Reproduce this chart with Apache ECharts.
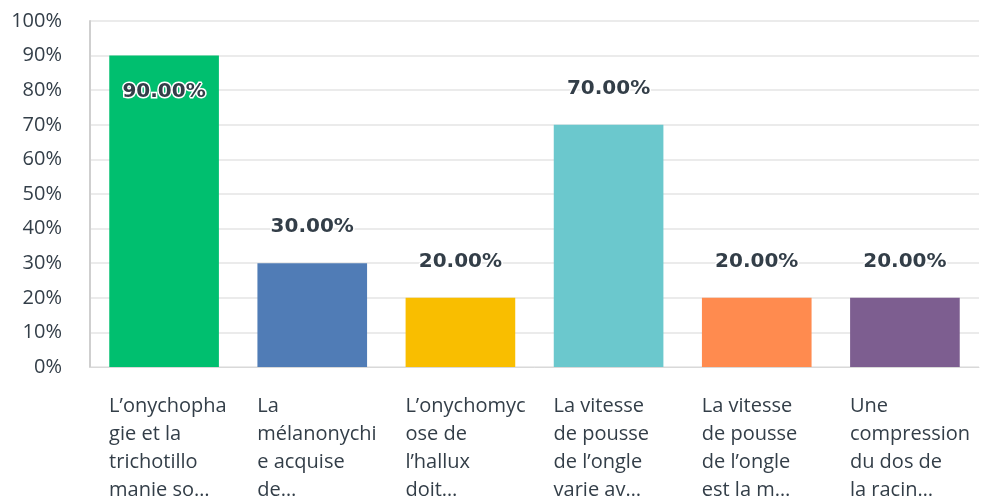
<!DOCTYPE html>
<html>
<head>
<meta charset="utf-8">
<script src="https://cdn.jsdelivr.net/npm/echarts@6/dist/echarts.min.js"></script>
<style>
  html, body { margin: 0; padding: 0; background: #fff; }
  #main { width: 982px; height: 500px; }
</style>
</head>
<body>
<div id="main"></div>
<script>
  // categories as shown (wrapped and cut off like the original)
  const categories = [
    'L’onychopha\ngie et la\ntrichotillo\nmanie so…',
    'La\nmélanonychi\ne acquise\nde…',
    'L’onychomyc\nose de\nl’hallux\ndoit…',
    'La vitesse\nde pousse\nde l’ongle\nvarie av…',
    'La vitesse\nde pousse\nde l’ongle\nest la m…',
    'Une\ncompression\ndu dos de\nla racin…'
  ];
  const values = [90, 30, 20, 70, 20, 20];
  const colors = ['#00bf6f', '#507cb6', '#f9be00', '#6bc8cd', '#ff8b4f', '#7d5e90'];
  const yTicks = [0, 10, 20, 30, 40, 50, 60, 70, 80, 90, 100];

  const font = '"Open Sans", sans-serif';
  const textColor = '#333e48';

  let myechart = echarts.init(document.getElementById('main'));

  let option = {
    animation: false,
    grid: { left: 90, right: 3, top: 21, bottom: 133 },
    xAxis: {
      type: 'category',
      data: categories,
      axisTick: { show: false },
      axisLine: { lineStyle: { color: '#d9d9d9', width: 1 } },
      axisLabel: {
        interval: 0,
        margin: 25,
        align: 'center',
        fontFamily: font,
        fontSize: 20,
        color: textColor,
        formatter: function (v) {
          return v.split('\n').map(l => '{t|' + l + '}').join('\n');
        },
        rich: {
          t: { align: 'left', width: 110, lineHeight: 28, fontSize: 20, fontFamily: font, color: textColor }
        }
      }
    },
    yAxis: {
      type: 'value',
      min: yTicks[0],
      max: yTicks[yTicks.length - 1],
      interval: 10,
      axisLine: { show: true, lineStyle: { color: '#cfcfcf', width: 2 } },
      axisTick: { show: false },
      splitLine: { lineStyle: { color: '#ebebeb', width: 2 } },
      axisLabel: {
        margin: 28,
        fontFamily: font,
        fontSize: 20,
        color: textColor,
        formatter: '{value}%'
      }
    },
    series: [{
      type: 'bar',
      barCategoryGap: '26%',
      data: values.map((v, i) => ({
        value: v,
        itemStyle: { color: colors[i] },
        label: v > 80 ? { position: 'insideTop', distance: 26 } : {}
      })),
      label: {
        show: true,
        position: 'top',
        distance: 26,
        fontFamily: '"DejaVu Sans", sans-serif',
        fontSize: 20,
        fontWeight: 'bold',
        color: textColor,
        textBorderColor: '#fff',
        textBorderWidth: 3,
        formatter: p => p.value.toFixed(2) + '%'
      }
    }]
  };
  myechart.setOption(option);
</script>
</body>
</html>
